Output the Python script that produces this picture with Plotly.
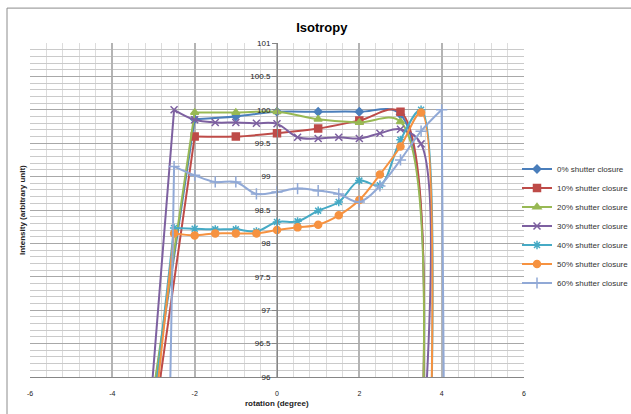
import plotly.graph_objects as go

# ---- data ----
x0 = [-3, -2, -1, 0, 1, 2, 3, 3.5]
x10 = [-3, -2, -1, 0, 1, 2, 3, 3.5]
x20 = [-3, -2, -1, 0, 1, 2, 3, 3.5]
x30 = [-3.5, -2.5, -2, -1.5, -1, -0.5, 0, 0.5, 1, 1.5, 2, 2.5, 3, 3.5, 3.6]
x40 = [-3, -2.5, -2, -1.5, -1, -0.5, 0, 0.5, 1, 1.5, 2, 2.5, 3, 3.5, 3.75]
x50 = [-3, -2.5, -2, -1.5, -1, -0.5, 0, 0.5, 1, 1.5, 2, 2.5, 3, 3.5, 3.75]
x60 = [-3, -2.5, -2, -1.5, -1, -0.5, 0, 0.5, 1, 1.5, 2, 2.5, 3, 3.5, 4, 4.5]

s0 = [95.75, 99.86, 99.90, 99.97, 99.97, 99.97, 99.93, 94.5]
s10 = [95.27, 99.60, 99.60, 99.65, 99.72, 99.84, 99.97, 94.5]
s20 = [95.79, 99.96, 99.96, 99.97, 99.86, 99.81, 99.82, 94.5]
s30 = [92.3, 100.0, 99.85, 99.81, 99.81, 99.80, 99.79, 99.59, 99.57, 99.59, 99.57, 99.65, 99.71, 99.49, 95.5]
s40 = [95.5, 98.23, 98.22, 98.21, 98.21, 98.18, 98.32, 98.33, 98.49, 98.62, 98.94, 98.87, 99.55, 100.0, 95.5]
s50 = [95.3, 98.15, 98.12, 98.15, 98.15, 98.15, 98.20, 98.24, 98.28, 98.42, 98.65, 99.03, 99.45, 99.96, 95.5]
s60 = [81.65, 99.15, 99.02, 98.92, 98.92, 98.74, 98.77, 98.82, 98.79, 98.74, 98.62, 98.86, 99.25, 99.68, 100.0, 60.0]

names = ["0% shutter closure", "10% shutter closure", "20% shutter closure",
         "30% shutter closure", "40% shutter closure", "50% shutter closure",
         "60% shutter closure"]

x_tickvals = [-6, -4, -2, 0, 2, 4, 6]
x_ticktext = ["-6", "-4", "-2", "0", "2", "4", "6"]
y_tickvals = [96, 96.5, 97, 97.5, 98, 98.5, 99, 99.5, 100, 100.5, 101]
y_ticktext = ["96", "96.5", "97", "97.5", "98", "98.5", "99", "99.5", "100", "100.5", "101"]

colors = ["#4A7EBB", "#BE4B48", "#98B954", "#7D60A0", "#46AAC5", "#F69240", "#91A9D6"]
symbols = ["diamond", "square", "triangle-up", "x-thin-open", "asterisk-open", "circle", "cross-thin-open"]
msizes = [6, 7, 7, 7, 7, 7, 8]
straight_right_edge = [False, False, False, False, False, False, True]

FONT = "Liberation Sans"

fig = go.Figure()
all_x = [x0, x10, x20, x30, x40, x50, x60]
all_y = [s0, s10, s20, s30, s40, s50, s60]

for i, (xs, ys) in enumerate(zip(all_x, all_y)):
    col, sym, sz, nm = colors[i], symbols[i], msizes[i], names[i]
    # steep rising edge (from the off-scale reading) drawn as a straight segment
    edges = [(xs[:2], ys[:2])]
    end = len(xs)
    if straight_right_edge[i]:
        edges.append((xs[-2:], ys[-2:]))
        end = len(xs) - 1
    for ex, ey in edges:
        fig.add_trace(go.Scatter(x=ex, y=ey, mode="lines", showlegend=False,
                                 line=dict(color=col, width=2),
                                 hoverinfo="skip"))
    fig.add_trace(go.Scatter(
        x=xs[1:end], y=ys[1:end], name=nm, mode="lines+markers",
        line=dict(color=col, width=2, shape="spline", smoothing=1),
        marker=dict(symbol=sym, size=sz, color=col,
                    line=dict(color=col, width=1.5)),
    ))

fig.update_layout(
    width=631, height=414, autosize=False,
    margin=dict(l=30, r=107, t=43, b=37, autoexpand=False),
    paper_bgcolor="white", plot_bgcolor="white",
    font=dict(family=FONT, color="#222222"),
    title=dict(text="<b>Isotropy</b>", x=0.51, xanchor="center",
               y=1 - 27 / 414, yanchor="middle",
               font=dict(size=13, family=FONT, color="#000000")),
    showlegend=True,
    legend=dict(xref="container", x=517 / 631, xanchor="left",
                yref="container", y=1 - 226 / 414, yanchor="middle",
                font=dict(size=8, family=FONT, color="#333333"),
                bgcolor="rgba(0,0,0,0)", itemwidth=30, tracegroupgap=0),
    xaxis=dict(range=[-6, 6], tickmode="array", tickvals=x_tickvals,
               ticktext=x_ticktext, showgrid=True, gridcolor="#B4B4B4",
               gridwidth=2, zeroline=False, showline=True,
               linecolor="#868686", linewidth=1, ticks="",
               ticklabelstandoff=10,
               tickfont=dict(size=7, family=FONT, color="#222222"),
               minor=dict(dtick=0.4, tick0=-6, showgrid=True,
                          gridcolor="#DCDCDC", gridwidth=1)),
    yaxis=dict(range=[96, 101], tickmode="array", tickvals=y_tickvals,
               ticktext=y_ticktext, showgrid=True, gridcolor="#A8A8A8",
               gridwidth=1, zeroline=False, showline=True,
               linecolor="#868686", linewidth=1, ticks="outside",
               ticklen=5, tickcolor="#868686", anchor="free",
               position=0.5,
               tickfont=dict(size=8, family=FONT, color="#222222"),
               minor=dict(dtick=0.1, tick0=96, showgrid=True,
                          gridcolor="#CACACA", gridwidth=1)),
    annotations=[
        dict(text="<b>rotation (degree)</b>", xref="paper", yref="paper",
             x=0.5, y=(377 - 404) / 335, xanchor="center", yanchor="middle",
             showarrow=False, font=dict(size=8, family=FONT, color="#222222")),
        dict(text="<b>Intensity (arbitrary unit)</b>", xref="paper", yref="paper",
             x=(22 - 30) / 494, y=0.5, xanchor="center", yanchor="middle",
             textangle=-90, showarrow=False,
             font=dict(size=8, family=FONT, color="#222222")),
    ],
    shapes=[
        dict(type="rect", xref="paper", yref="paper",
             x0=(7 - 30) / 494, x1=(660 - 30) / 494,
             y0=(377 - 440) / 335, y1=(377 - 7) / 335,
             line=dict(color="#8C8C8C", width=1), fillcolor="rgba(0,0,0,0)",
             layer="below"),
    ],
)

fig.write_html("out.html", config={"displayModeBar": False},
               post_script="document.body.style.margin='0';")
